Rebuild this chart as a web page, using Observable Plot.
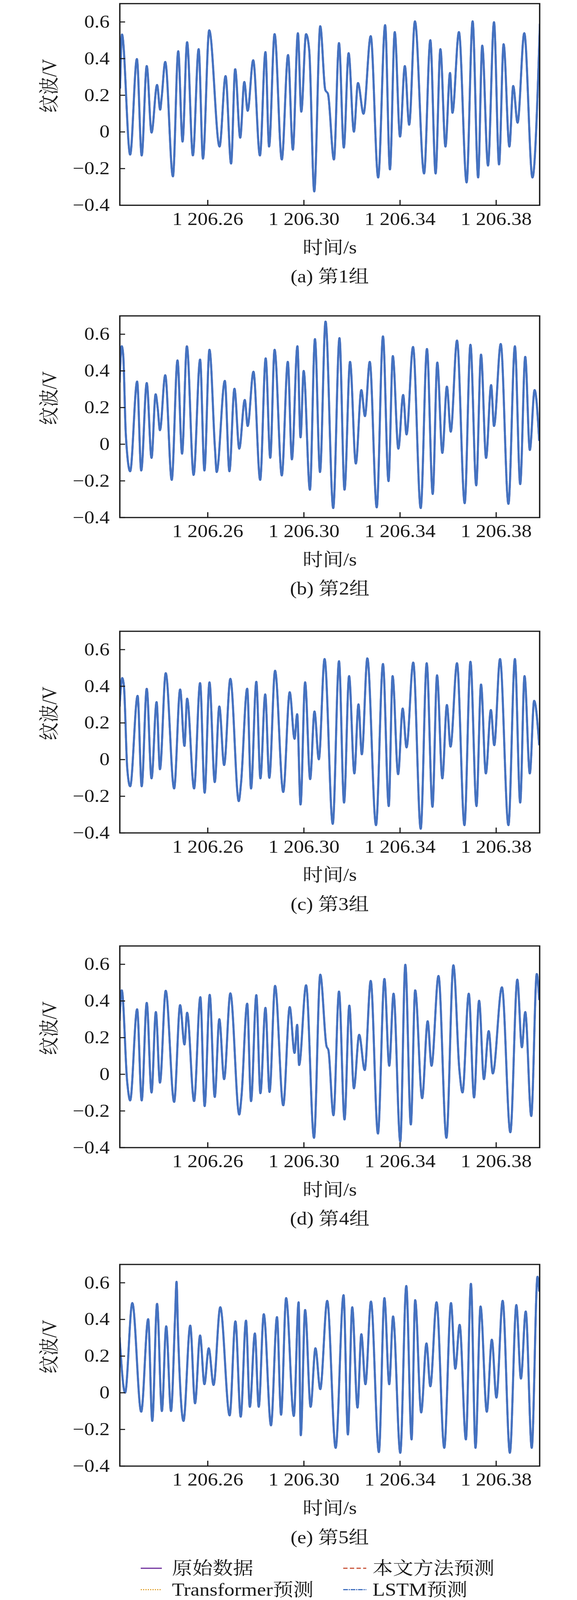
<!DOCTYPE html>
<html><head><meta charset="utf-8">
<script src="https://cdn.jsdelivr.net/npm/d3@7"></script>
<script src="https://cdn.jsdelivr.net/npm/@observablehq/plot@0.6"></script>
<style>
html,body{margin:0;padding:0;background:#fff;overflow:hidden;}
#root{position:relative;width:1476px;height:4642px;overflow:hidden;background:#fff;transform-origin:0 0;}
.panel{position:absolute;left:0;}
</style></head><body><div id="root"></div>
<script>
// time offsets are milliseconds after timeBase seconds; values in V
const timeBase = 1206.2;
const group1 = [[23.5,0.24],[24.3,0.532],[27.7,-0.124],[30.5,0.398],[32.5,-0.129],[34.6,0.36],[36.6,-0.004],[38.9,0.257],[40.2,0.121],[40.8,0.186],[42.3,0.382],[45.5,-0.243],[47.7,0.441],[49.5,-0.053],[51.4,0.49],[53.8,-0.129],[56.2,0.452],[58.0,-0.146],[60.6,0.555],[64.9,-0.08],[67.4,0.305],[69.7,-0.173],[71.4,0.343],[73.5,-0.032],[75.2,0.273],[76.6,0.115],[78.9,0.392],[81.7,-0.129],[84.0,0.436],[85.5,-0.08],[87.8,0.534],[90.8,-0.151],[93.4,0.42],[95.4,-0.097],[97.5,0.539],[98.9,0.11],[100.9,0.534],[102.2,0.447],[104.3,-0.325],[106.8,0.577],[108.9,0.229],[110.0,0.208],[112.5,-0.151],[114.6,0.485],[116.6,-0.086],[118.6,0.43],[120.8,0.001],[122.5,0.267],[124.8,0.099],[127.8,0.523],[130.9,-0.249],[133.8,0.583],[135.8,-0.205],[137.8,0.545],[140.0,-0.026],[142.0,0.36],[143.8,0.039],[146.2,0.604],[150.0,-0.227],[152.6,0.501],[154.8,-0.227],[156.8,0.452],[158.9,-0.08],[160.8,0.322],[161.8,0.104],[164.5,0.545],[167.7,-0.276],[170.2,0.604],[172.5,-0.249],[174.2,0.471],[176.6,-0.184],[179.1,0.599],[181.2,-0.178],[183.1,0.479],[185.5,-0.08],[187.1,0.251],[188.9,0.05],[191.7,0.539],[195.1,-0.249],[198.2,0.588]];
const group2 = [[23.3,0.338],[24.2,0.535],[24.8,0.489],[25.9,0.053],[27.7,-0.148],[30.6,0.342],[32.3,-0.144],[34.6,0.334],[36.6,-0.075],[38.3,0.273],[39.2,0.192],[40.1,0.076],[42.3,0.377],[45.0,-0.195],[47.4,0.458],[49.3,-0.052],[51.3,0.535],[54.1,-0.168],[56.8,0.462],[58.6,-0.144],[60.7,0.516],[63.0,-0.025],[63.7,-0.152],[67.1,0.346],[69.0,-0.148],[71.1,0.303],[73.1,-0.025],[75.4,0.242],[76.6,0.099],[79.0,0.396],[81.8,-0.195],[84.1,0.469],[86.0,-0.075],[87.8,0.516],[90.8,-0.171],[93.3,0.45],[95.0,-0.083],[97.3,0.535],[98.6,0.037],[99.9,0.40],[102.5,-0.249],[104.6,0.574],[106.7,-0.152],[109.0,0.67],[112.2,-0.349],[114.8,0.579],[116.9,-0.249],[119.2,0.45],[121.6,-0.106],[123.9,0.296],[125.4,0.153],[127.4,0.45],[130.3,-0.345],[132.9,0.589],[135.2,-0.202],[137.0,0.481],[139.3,-0.025],[141.3,0.269],[142.7,0.053],[145.4,0.531],[148.6,-0.349],[151.2,0.52],[153.6,-0.272],[155.5,0.446],[157.6,-0.048],[159.5,0.315],[161.1,0.068],[163.7,0.566],[166.9,-0.322],[169.3,0.543],[171.7,-0.225],[173.7,0.489],[175.8,-0.075],[177.9,0.323],[179.1,0.099],[181.9,0.547],[185.1,-0.326],[187.8,0.535],[190.0,-0.218],[192.1,0.477],[194.0,-0.032],[196.0,0.296],[197.9,0.022]];
const group3 = [[23.3,0.29],[24.4,0.445],[25.1,0.402],[26.5,-0.049],[27.7,-0.146],[30.8,0.348],[32.5,-0.146],[34.6,0.387],[36.6,-0.103],[38.7,0.314],[40.1,-0.053],[42.5,0.472],[46.0,-0.158],[48.5,0.383],[50.3,0.074],[51.4,0.333],[54.3,-0.158],[56.8,0.418],[58.7,-0.181],[60.7,0.422],[62.9,-0.123],[64.8,0.29],[66.8,-0.03],[69.4,0.441],[72.9,-0.227],[73.8,-0.134],[76.4,0.387],[78.0,-0.158],[80.2,0.425],[81.9,-0.103],[83.9,0.356],[85.6,-0.10],[88.0,0.485],[91.4,-0.177],[94.1,0.368],[96.1,0.113],[97.2,0.248],[98.6,-0.246],[100.5,0.422],[102.6,-0.107],[104.4,0.263],[106.2,0.001],[108.6,0.549],[112.0,-0.351],[114.6,0.537],[116.7,-0.235],[118.8,0.456],[121.0,-0.076],[122.7,0.302],[124.1,0.028],[126.4,0.553],[130.0,-0.358],[132.9,0.522],[135.3,-0.254],[136.9,0.456],[139.2,-0.08],[141.1,0.279],[142.7,0.066],[145.5,0.53],[148.6,-0.378],[151.1,0.526],[153.5,-0.258],[155.4,0.46],[157.6,-0.103],[159.5,0.298],[161.0,0.07],[163.7,0.526],[166.8,-0.358],[169.3,0.534],[171.8,-0.254],[173.7,0.41],[175.7,-0.076],[177.8,0.271],[179.2,0.078],[181.6,0.549],[185.1,-0.358],[187.8,0.549],[190.0,-0.235],[191.8,0.456],[194.0,-0.076],[195.8,0.321],[197.9,0.082]];
const group4 = [[23.3,0.293],[24.2,0.459],[26.5,-0.046],[27.7,-0.143],[30.6,0.355],[32.5,-0.143],[34.6,0.39],[36.6,-0.10],[38.4,0.34],[40.1,-0.046],[42.5,0.456],[46.0,-0.151],[48.5,0.378],[50.3,0.162],[51.4,0.336],[54.3,-0.147],[56.9,0.421],[58.7,-0.174],[60.8,0.434],[62.9,-0.124],[64.8,0.301],[66.8,-0.027],[69.4,0.442],[73.1,-0.22],[74.0,-0.124],[76.4,0.386],[78.0,-0.147],[80.2,0.432],[81.9,-0.104],[84.0,0.363],[85.7,-0.097],[88.0,0.483],[91.4,-0.17],[94.1,0.367],[96.1,0.116],[97.2,0.27],[98.0,0.05],[100.9,0.486],[104.2,-0.347],[106.8,0.544],[109.4,0.154],[110.2,0.131],[112.3,-0.224],[114.6,0.452],[116.9,-0.247],[118.9,0.375],[120.8,-0.077],[123.0,0.216],[125.3,0.023],[127.8,0.51],[130.8,-0.324],[133.5,0.521],[135.5,0.046],[137.3,0.44],[140.1,-0.367],[142.2,0.598],[144.5,-0.274],[146.3,0.459],[149.2,-0.131],[151.5,0.29],[153.1,0.046],[156.0,0.537],[159.3,-0.347],[162.2,0.595],[164.7,0.023],[166.0,-0.10],[168.6,0.44],[170.8,-0.127],[172.9,0.402],[174.9,-0.027],[176.9,0.236],[178.6,0.004],[182.4,0.475],[185.9,-0.317],[188.8,0.517],[190.7,0.147],[192.1,0.34],[194.6,-0.228],[196.9,0.548],[197.9,0.409]];
const group5 = [[23.3,0.301],[25.6,0.0],[28.6,0.49],[32.3,-0.104],[35.2,0.402],[36.9,-0.154],[38.9,0.486],[40.9,-0.10],[42.7,0.363],[44.7,-0.10],[46.4,0.417],[47.0,0.606],[47.6,0.34],[49.9,-0.154],[52.7,0.367],[54.7,-0.058],[56.8,0.313],[58.6,0.046],[60.4,0.243],[62.4,0.042],[65.2,0.467],[69.1,-0.124],[71.5,0.39],[73.7,-0.131],[75.9,0.394],[77.5,-0.077],[79.6,0.324],[81.2,-0.077],[83.3,0.429],[86.3,-0.178],[88.8,0.413],[90.5,-0.12],[92.6,0.517],[95.8,-0.127],[97.8,0.494],[98.7,-0.232],[100.5,0.452],[102.8,-0.077],[104.8,0.243],[106.8,0.019],[109.7,0.502],[113.2,-0.301],[116.5,0.533],[118.3,-0.228],[120.1,0.467],[122.3,-0.081],[123.9,0.32],[125.6,0.046],[127.9,0.498],[131.2,-0.324],[133.5,0.517],[135.5,0.046],[137.1,0.417],[140.1,-0.328],[142.6,0.583],[144.8,-0.255],[146.3,0.506],[148.8,-0.108],[151.0,0.27],[152.6,0.035],[155.2,0.494],[158.4,-0.301],[161.2,0.49],[163.0,0.131],[164.8,0.371],[167.4,-0.255],[169.5,0.595],[171.4,-0.301],[173.5,0.471],[176.1,-0.104],[178.2,0.29],[180.1,-0.027],[182.7,0.502],[185.7,-0.328],[188.4,0.479],[190.3,0.077],[192.3,0.444],[194.8,-0.301],[197.2,0.633],[197.9,0.556]];

const groups = [group1, group2, group3, group4, group5];
const panelCaptions = ["(a) 第1组", "(b) 第2组", "(c) 第3组", "(d) 第4组", "(e) 第5组"];
const seriesNames = ["原始数据", "Transformer预测", "本文方法预测", "LSTM预测"];
const legendRows = [["原始数据", "本文方法预测"], ["Transformer预测", "LSTM预测"]];
const xTickValues = [1206.26, 1206.30, 1206.34, 1206.38];
const xTickLabels = ["1 206.26", "1 206.30", "1 206.34", "1 206.38"];
const yTickValues = [-0.4, -0.2, 0, 0.2, 0.4, 0.6];
const yTickLabels = ["−0.4", "−0.2", "0", "0.2", "0.4", "0.6"];
const xDomain = [1206.2234, 1206.3981];
const yDomain = [-0.4, 0.7];
const xLabel = "时间/s";
const yLabel = "纹波/V";

// ---- styles & layout ----
const FONT = '"Liberation Serif","Noto Serif CJK SC","Noto Sans CJK SC",serif';
const INK = "#1a1a1a";
const seriesStyle = {
  "原始数据":        {stroke: "#6f2f9c", strokeWidth: 4.8, dash: null},
  "Transformer预测": {stroke: "#e3a535", strokeWidth: 3.8, dash: "3,3"},
  "本文方法预测":    {stroke: "#c9543a", strokeWidth: 4.0, dash: "11,6"},
  "LSTM预测":        {stroke: "#4472c0", strokeWidth: 5.4, dash: "12,2,3,2"}
};
const frameTops = [9.5, 916, 1831, 2744, 3668];
const M = {top: 20, left: 306, right: 96, bottom: 250};
const plotH = 585;
const plotW = 1476 - M.left - M.right;

const root = document.getElementById("root");

// fit the 1476x4642 layout to the actual viewport (guards against device scaling)
(function fit() {
  const sx = window.innerWidth / 1476, sy = window.innerHeight / 4642;
  if (sx > 0.5 && sx < 2 && sy > 0.5 && sy < 2 && (Math.abs(sx - 1) > 0.005 || Math.abs(sy - 1) > 0.005)) {
    root.style.transform = `scale(${sx},${sy})`;
  }
})();

groups.forEach((data, k) => {
  const marks = seriesNames.map(name => {
    const s = seriesStyle[name];
    return Plot.line(data, {
      x: d => timeBase + d[0] / 1000, y: d => d[1],
      stroke: s.stroke, strokeWidth: s.strokeWidth,
      strokeDasharray: s.dash, curve: "monotone-x", clip: true
    });
  });
  marks.push(
    Plot.tickX(xTickValues, {x: d => d, insetTop: plotH - 15, stroke: INK, strokeWidth: 3}),
    Plot.tickY(yTickValues, {y: d => d, insetRight: plotW - 14, stroke: INK, strokeWidth: 3}),
    Plot.frame({stroke: INK, strokeWidth: 3.5}),
    Plot.axisX(xTickValues, {tickSize: 0, tickPadding: 20, fontSize: 52, label: null,
      tickFormat: d => xTickLabels[xTickValues.indexOf(d)]}),
    Plot.axisY(yTickValues, {tickSize: 0, tickPadding: 26, fontSize: 52, label: null,
      tickFormat: d => yTickLabels[yTickValues.indexOf(d)]}),
    Plot.text([xLabel], {text: d => d, frameAnchor: "bottom", dy: 123, lineAnchor: "middle", fontSize: 52}),
    Plot.text([yLabel], {text: d => d, frameAnchor: "top-left", dx: 127 - M.left, dy: 238.5,
      rotate: -90, textAnchor: "middle", lineAnchor: "middle", fontSize: 52}),
    Plot.text([panelCaptions[k]], {text: d => d, frameAnchor: "bottom", dy: 207, lineAnchor: "middle", fontSize: 52})
  );
  const svg = Plot.plot({
    width: 1476,
    height: M.top + plotH + M.bottom,
    marginTop: M.top, marginLeft: M.left, marginRight: M.right, marginBottom: M.bottom,
    x: {domain: xDomain},
    y: {domain: yDomain},
    style: {fontFamily: FONT, fontSize: "52px", color: INK, background: "transparent", overflow: "visible"},
    marks
  });
  const div = document.createElement("div");
  div.className = "panel";
  div.style.top = (frameTops[k] - M.top) + "px";
  div.appendChild(svg);
  root.appendChild(div);
});

// ---- legend ----
const legTop = 4505;
const legendDiv = document.createElement("div");
legendDiv.className = "panel";
legendDiv.style.top = legTop + "px";
root.appendChild(legendDiv);
const lsvg = d3.select(legendDiv).append("svg")
  .attr("width", 1476).attr("height", 137)
  .style("font-family", FONT).style("font-size", "52px");
const colX = [[360, 414, 440], [878, 937, 953]];
const rowY = [45, 107];
legendRows.forEach((row, r) => {
  row.forEach((name, c) => {
    const s = seriesStyle[name];
    lsvg.append("line")
      .attr("x1", colX[c][0]).attr("x2", colX[c][1])
      .attr("y1", rowY[r]).attr("y2", rowY[r])
      .attr("stroke", s.stroke).attr("stroke-width", 3.5)
      .attr("stroke-dasharray", s.dash);
    lsvg.append("text")
      .attr("x", colX[c][2]).attr("y", rowY[r])
      .attr("dominant-baseline", "central")
      .attr("fill", INK)
      .text(name);
  });
});
</script></body></html>
